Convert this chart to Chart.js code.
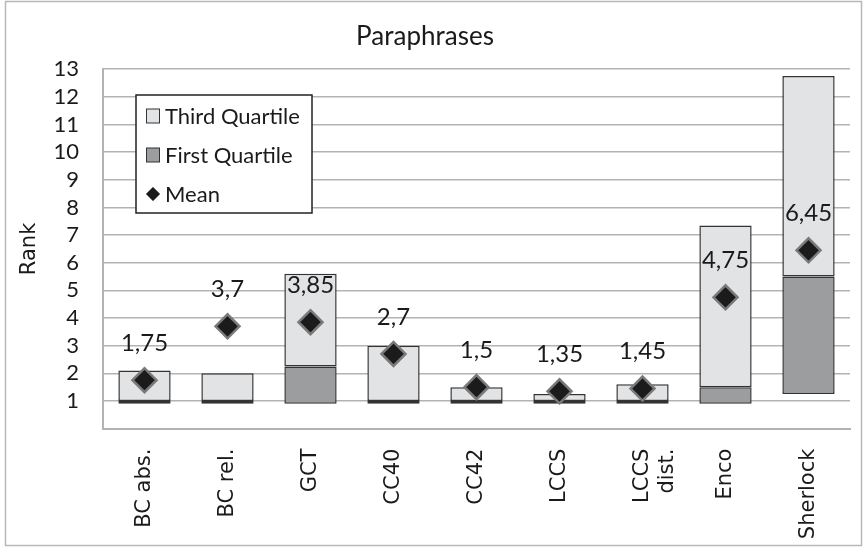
<!DOCTYPE html>
<html>
<head>
<meta charset="utf-8">
<script src="https://cdn.jsdelivr.net/npm/chart.js@4"></script>
<style>
  body { margin: 0; background: #fff; }
  #wrap { position: relative; width: 867px; height: 547px; }
</style>
</head>
<body>
<div id="wrap"><canvas id="chart"></canvas></div>
<script>
const categories = ["BC abs.", "BC rel.", "GCT", "CC40", "CC42", "LCCS", ["LCCS", "dist."], "Enco", "Sherlock"]
const barBase = [0.9, 0.9, 0.9, 0.9, 0.9, 0.9, 0.9, 0.9, 1.25]
const firstQuartile = [1, 1, 2.25, 1, 1, 1, 1, 1.5, 5.5]
const thirdQuartile = [2.1, 2, 5.6, 3, 1.5, 1.25, 1.6, 7.35, 12.75]
const means = [1.75, 3.7, 3.85, 2.7, 1.5, 1.35, 1.45, 4.75, 6.45]
const yTicks = [1, 2, 3, 4, 5, 6, 7, 8, 9, 10, 11, 12, 13]

const lightFill = "#e2e3e5"
const darkFill = "#9c9d9f"
const gridColor = "#b3b3b3"

// frame around the whole picture
const framePlugin = {
  id: "frame",
  beforeDraw(chart) {
    const ctx = chart.ctx
    ctx.save()
    ctx.fillStyle = "#fff"
    ctx.fillRect(0, 0, chart.width, chart.height)
    ctx.strokeStyle = "#b8b8b8"
    ctx.lineWidth = 1.5
    ctx.strokeRect(5.5, 1.5, 856, 544)
    ctx.restore()
  }
}

// value labels above the mean diamonds
const meanLabels = {
  id: "meanLabels",
  afterDatasetsDraw(chart) {
    const ctx = chart.ctx
    const meta = chart.getDatasetMeta(2)
    ctx.save()
    ctx.font = "24px Lato"
    ctx.fillStyle = "#1a1a1a"
    ctx.textAlign = "center"
    ctx.textBaseline = "middle"
    meta.data.forEach((pt, i) => {
      ctx.fillText(String(means[i]).replace(".", ","), pt.x, pt.y - 37)
    })
    ctx.restore()
  }
}

// boxed legend inside the plot
const boxLegend = {
  id: "boxLegend",
  afterDraw(chart) {
    const ctx = chart.ctx
    const x = 136, y = 95, w = 176, h = 118
    ctx.save()
    ctx.fillStyle = "#fff"
    ctx.fillRect(x, y, w, h)
    ctx.strokeStyle = "#222"
    ctx.lineWidth = 1.5
    ctx.strokeRect(x, y, w, h)
    const rows = [chart.data.datasets[1], chart.data.datasets[0], chart.data.datasets[2]]
    ctx.font = "22px Lato"
    ctx.textBaseline = "middle"
    rows.forEach((ds, i) => {
      const cy = y + 21 + i * 39
      if (ds.type === "line") {
        ctx.beginPath()
        ctx.moveTo(153, cy - 7)
        ctx.lineTo(160, cy)
        ctx.lineTo(153, cy + 7)
        ctx.lineTo(146, cy)
        ctx.closePath()
        ctx.fillStyle = ds.backgroundColor
        ctx.fill()
        ctx.strokeStyle = ds.borderColor
        ctx.lineWidth = 1
        ctx.stroke()
      } else {
        ctx.fillStyle = ds.backgroundColor
        ctx.fillRect(146.5, cy - 7, 13, 14)
        ctx.strokeStyle = "#333"
        ctx.lineWidth = 1
        ctx.strokeRect(146.5, cy - 7, 13, 14)
      }
      ctx.fillStyle = "#1a1a1a"
      ctx.fillText(ds.label, 165, cy + 1)
    })
    ctx.restore()
  }
}

new Chart(document.getElementById("chart"), {
  type: "bar",
  data: {
    labels: categories,
    datasets: [
      {
        label: "First Quartile",
        data: barBase.map((b, i) => [b, firstQuartile[i]]),
        backgroundColor: darkFill,
        borderColor: "#333",
        borderWidth: 1.5,
        borderSkipped: false,
        grouped: false,
        barPercentage: 0.63,
        categoryPercentage: 1,
        order: 2
      },
      {
        label: "Third Quartile",
        data: firstQuartile.map((q, i) => [q, thirdQuartile[i]]),
        backgroundColor: lightFill,
        borderColor: "#333",
        borderWidth: 1.5,
        borderSkipped: false,
        grouped: false,
        barPercentage: 0.63,
        categoryPercentage: 1,
        order: 1
      },
      {
        type: "line",
        label: "Mean",
        data: means,
        showLine: false,
        pointStyle: "rectRot",
        pointRadius: 12,
        pointHoverRadius: 12,
        backgroundColor: "#1b1b1b",
        borderColor: "#7a7a7a",
        borderWidth: 2.5,
        order: 0
      }
    ]
  },
  options: {
    responsive: true,
    maintainAspectRatio: false,
    animation: false,
    layout: { padding: { left: 0, right: 17, top: 0, bottom: 0 } },
    plugins: {
      legend: { display: false },
      tooltip: { enabled: false },
      title: {
        display: true,
        text: "Paraphrases",
        color: "#1a1a1a",
        font: { family: "Lato", size: 26, weight: "normal" },
        padding: { top: 21, bottom: 17 }
      }
    },
    scales: {
      x: {
        grid: { display: false },
        border: { color: gridColor, width: 2 },
        ticks: {
          color: "#1a1a1a",
          font: { family: "DejaVu Sans", size: 21 },
          minRotation: 90,
          maxRotation: 90,
          padding: 12
        },
        afterFit(scale) { scale.height = 118.4 }
      },
      y: {
        min: 0,
        max: 13,
        afterBuildTicks(scale) {
          scale.ticks = [0, ...yTicks].map(v => ({ value: v }))
        },
        grid: { color: gridColor, lineWidth: 1.5, drawTicks: false },
        border: { color: gridColor, width: 2 },
        ticks: {
          color: "#1a1a1a",
          font: { family: "Lato", size: 22 },
          padding: 24,
          autoSkip: false,
          callback: v => (v === 0 ? "" : v)
        },
        title: {
          display: true,
          text: "Rank",
          color: "#1a1a1a",
          font: { family: "DejaVu Sans", size: 21 },
          padding: { top: 17, bottom: 0 }
        },
        afterFit(scale) { scale.width = 103 }
      }
    }
  },
  plugins: [framePlugin, meanLabels, boxLegend]
})
</script>
</body>
</html>
